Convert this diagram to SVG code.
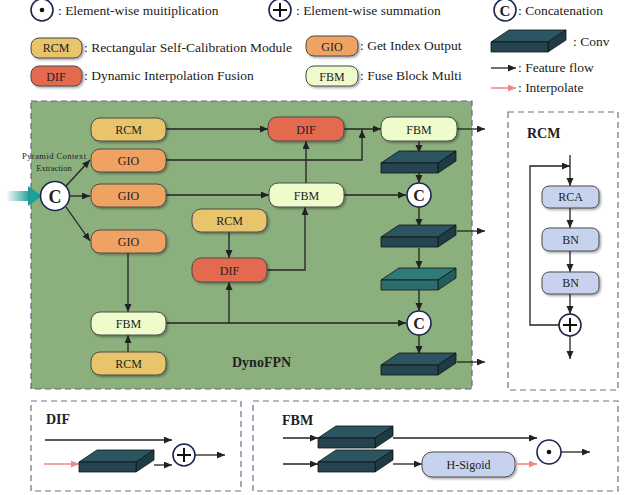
<svg xmlns="http://www.w3.org/2000/svg" xmlns:xlink="http://www.w3.org/1999/xlink" width="629" height="495" viewBox="0 0 629 495">
<style>
text{font-family:"Liberation Serif","Times New Roman",serif;fill:#222}
.lg{font-size:13.5px}
.nt{font-size:12px;text-anchor:middle}
.bt{font-size:14px;font-weight:bold}
.box{stroke:#4a4a4a;stroke-width:1;filter:url(#sh)}
.rcm{fill:#e8c46a}.gio{fill:#f0a262}.dif{fill:#e46b50}.fbm{fill:#eefccc}.blu{fill:#c7d3ee}
.ln{fill:none;stroke:#222;stroke-width:1.3}
.ar{marker-end:url(#ah)}
.pk{fill:none;stroke:#ee8a86;stroke-width:1.6;marker-end:url(#ahp)}
.cir{fill:#fff;stroke:#1c2550;stroke-width:1.6}
.dash{fill:none;stroke:#6c7088;stroke-width:1.2;stroke-dasharray:6 4}
</style>
<defs>
<filter id="sh" x="-10%" y="-20%" width="130%" height="160%"><feDropShadow dx="1.5" dy="1.5" stdDeviation="0.8" flood-color="#000" flood-opacity="0.35"/></filter>
<marker id="ah" markerUnits="userSpaceOnUse" markerWidth="9" markerHeight="8" refX="8" refY="3.5" orient="auto"><path d="M0,0 L8,3.5 L0,7 z" fill="#222"/></marker>
<marker id="ahp" markerUnits="userSpaceOnUse" markerWidth="9" markerHeight="8" refX="8" refY="3.5" orient="auto"><path d="M0,0 L8,3.5 L0,7 z" fill="#ee8a86"/></marker>
<linearGradient id="tg" x1="0" y1="0" x2="1" y2="0"><stop offset="0" stop-color="#1d9e96" stop-opacity="0"/><stop offset="1" stop-color="#1d9e96"/></linearGradient>
<g id="conv" stroke="#111" stroke-width="0.8" stroke-linejoin="round">
<polygon points="0,0 18,-12 75,-12 57,0" fill="#2b5560"/>
<polygon points="57,0 75,-12 75,-2 57,10" fill="#1d3c45"/>
<rect x="0" y="0" width="57" height="10" fill="#24444f"/>
</g>
<g id="convt" stroke="#111" stroke-width="0.8" stroke-linejoin="round">
<polygon points="0,0 18,-12 75,-12 57,0" fill="#2f7b78"/>
<polygon points="57,0 75,-12 75,-2 57,10" fill="#225e5c"/>
<rect x="0" y="0" width="57" height="10" fill="#286f6d"/>
</g>
</defs>
<rect width="629" height="495" fill="#fff"/>

<!-- Legend -->
<g id="legend">
<circle class="cir" cx="42" cy="10" r="11"/><circle cx="42" cy="10" r="2.3" fill="#111"/>
<text class="lg" x="58" y="15">: Element-wise muitiplication</text>
<circle class="cir" cx="280" cy="10" r="11"/><path d="M273,10 H287 M280,3 V17" stroke="#111" stroke-width="2"/>
<text class="lg" x="296" y="15">: Element-wise summation</text>
<circle class="cir" cx="505" cy="10" r="11"/><text x="505" y="15.5" font-size="15" font-weight="bold" text-anchor="middle">C</text>
<text class="lg" x="518" y="15">: Concatenation</text>
<rect class="box rcm" x="31" y="38" width="51" height="20" rx="8"/><text class="nt" x="56" y="52">RCM</text>
<text class="lg" x="84" y="52">: Rectangular Self-Calibration Module</text>
<rect class="box dif" x="31" y="66" width="51" height="20" rx="8"/><text class="nt" x="56" y="80.5">DIF</text>
<text class="lg" x="84" y="80">: Dynamic Interpolation Fusion</text>
<rect class="box gio" x="306" y="36" width="52" height="20" rx="8"/><text class="nt" x="332" y="50.5">GIO</text>
<text class="lg" x="360" y="50">: Get Index Output</text>
<rect class="box fbm" x="306" y="66" width="52" height="20" rx="8"/><text class="nt" x="332" y="80.5">FBM</text>
<text class="lg" x="360" y="80">: Fuse Block Multi</text>
<use href="#conv" x="491" y="42"/>
<text class="lg" x="573" y="46">: Conv</text>
<line class="ln ar" x1="491" y1="68" x2="516" y2="68"/>
<text class="lg" x="518" y="72">: Feature flow</text>
<line class="pk" x1="491" y1="88" x2="516" y2="88"/>
<text class="lg" x="518" y="92">: Interpolate</text>
</g>

<!-- Main panel -->
<rect x="31" y="101" width="441" height="288" fill="#8cb07d" stroke="#5f6680" stroke-width="1.2" stroke-dasharray="6 4"/>
<text x="54" y="159" font-size="8.5" text-anchor="middle" textLength="64">Pyramid Context</text>
<text x="54" y="171" font-size="8.5" text-anchor="middle">Extraction</text>
<text class="bt" x="232" y="367">DynoFPN</text>

<!-- Input teal arrow -->
<g id="input">
<rect x="6" y="191" width="24" height="10" fill="url(#tg)"/>
<polygon points="28,186 42,196 28,206" fill="#1d9e96"/>
</g>

<g id="connectors">
<line class="ln ar" x1="66" y1="186" x2="90" y2="160"/>
<line class="ln ar" x1="70" y1="196" x2="90" y2="196"/>
<line class="ln ar" x1="66" y1="207" x2="90" y2="241"/>
<line class="ln ar" x1="166" y1="129" x2="268" y2="129"/>
<line class="ln ar" x1="344" y1="129" x2="381" y2="129"/>
<polyline class="ln ar" points="166,160 362,160 362,130"/>
<line class="ln ar" x1="166" y1="195" x2="269" y2="195"/>
<line class="ln ar" x1="306" y1="183" x2="306" y2="141"/>
<line class="ln ar" x1="344" y1="195" x2="406" y2="195"/>
<line class="ln ar" x1="457" y1="129" x2="485" y2="129"/>
<line class="ln ar" x1="419" y1="141" x2="419" y2="153"/>
<line class="ln ar" x1="419" y1="173" x2="419" y2="183"/>
<line class="ln ar" x1="419" y1="207" x2="419" y2="227"/>
<line class="ln ar" x1="457" y1="231" x2="485" y2="231"/>
<line class="ln ar" x1="419" y1="248" x2="419" y2="269"/>
<line class="ln ar" x1="419" y1="290" x2="419" y2="311"/>
<line class="ln ar" x1="419" y1="335" x2="419" y2="354"/>
<line class="ln ar" x1="457" y1="362" x2="485" y2="362"/>
<line class="ln ar" x1="128" y1="253" x2="128" y2="312"/>
<line class="ln ar" x1="128" y1="352" x2="128" y2="335"/>
<line class="ln ar" x1="166" y1="323" x2="406" y2="323"/>
<line class="ln ar" x1="229" y1="323" x2="229" y2="282"/>
<line class="ln ar" x1="229" y1="232" x2="229" y2="258"/>
<polyline class="ln ar" points="267,270 305,270 305,207"/>
</g>

<g id="cat1"><circle class="cir" cx="55" cy="196" r="14.5"/><text x="55" y="202.5" font-size="18" font-weight="bold" text-anchor="middle">C</text></g>
<g id="rcm1"><rect class="box rcm" x="91" y="118" width="75" height="23" rx="9"/><text class="nt" x="128.5" y="134">RCM</text></g>
<g id="gio1"><rect class="box gio" x="91" y="149" width="75" height="23" rx="9"/><text class="nt" x="128.5" y="165">GIO</text></g>
<g id="gio2"><rect class="box gio" x="91" y="184" width="75" height="23" rx="9"/><text class="nt" x="128.5" y="200">GIO</text></g>
<g id="gio3"><rect class="box gio" x="91" y="230" width="75" height="23" rx="9"/><text class="nt" x="128.5" y="246">GIO</text></g>
<g id="rcm2"><rect class="box rcm" x="192" y="209" width="75" height="23" rx="9"/><text class="nt" x="229.5" y="225">RCM</text></g>
<g id="dif2"><rect class="box dif" x="192" y="258" width="75" height="24" rx="9"/><text class="nt" x="229.5" y="274.5">DIF</text></g>
<g id="dif1"><rect class="box dif" x="268" y="117" width="76" height="24" rx="9"/><text class="nt" x="306" y="133.5">DIF</text></g>
<g id="fbm1"><rect class="box fbm" x="381" y="117" width="76" height="24" rx="9"/><text class="nt" x="419" y="133.5">FBM</text></g>
<g id="fbm2"><rect class="box fbm" x="269" y="183" width="75" height="24" rx="9"/><text class="nt" x="306.5" y="199.5">FBM</text></g>
<g id="fbm3"><rect class="box fbm" x="91" y="312" width="75" height="23" rx="9"/><text class="nt" x="128.5" y="328">FBM</text></g>
<g id="rcm3"><rect class="box rcm" x="91" y="352" width="75" height="23" rx="9"/><text class="nt" x="128.5" y="368">RCM</text></g>
<g id="conv1"><use href="#conv" x="381" y="163"/></g>
<g id="cat2"><circle class="cir" cx="419" cy="195" r="12"/><text x="419" y="200.5" font-size="16" font-weight="bold" text-anchor="middle">C</text></g>
<g id="conv2"><use href="#conv" x="381" y="237"/></g>
<g id="conv3"><use href="#convt" x="381" y="280"/></g>
<g id="cat3"><circle class="cir" cx="419" cy="323" r="12"/><text x="419" y="328.5" font-size="16" font-weight="bold" text-anchor="middle">C</text></g>
<g id="conv4"><use href="#conv" x="381" y="365"/></g>

<!-- RCM panel -->
<g id="rcm-panel">
<rect class="dash" x="508" y="112" width="110" height="278"/>
<text class="bt" x="527" y="138">RCM</text>
<line class="ln ar" x1="570" y1="155" x2="570" y2="186"/>
<polyline class="ln ar" points="559,325 530,325 530,166 570,166"/>
<rect class="box blu" x="542" y="186" width="57" height="22" rx="7"/><text class="nt" x="570.5" y="201">RCA</text>
<line class="ln ar" x1="570" y1="208" x2="570" y2="228"/>
<rect class="box blu" x="542" y="228" width="57" height="23" rx="7"/><text class="nt" x="570.5" y="243.5">BN</text>
<line class="ln ar" x1="570" y1="251" x2="570" y2="272"/>
<rect class="box blu" x="542" y="272" width="57" height="22" rx="7"/><text class="nt" x="570.5" y="287">BN</text>
<line class="ln ar" x1="570" y1="294" x2="570" y2="314"/>
<circle class="cir" cx="570" cy="325" r="11"/><path d="M563,325 H577 M570,318 V332" stroke="#111" stroke-width="2"/>
<line class="ln ar" x1="570" y1="336" x2="570" y2="359"/>
</g>

<!-- DIF panel -->
<g id="dif-panel">
<rect class="dash" x="31" y="401" width="210" height="90"/>
<text class="bt" x="46" y="424">DIF</text>
<line class="ln ar" x1="45" y1="440" x2="172" y2="440"/>
<line class="pk" x1="44" y1="464" x2="79" y2="464"/>
<use href="#conv" x="79" y="462"/>
<line class="ln ar" x1="154" y1="465" x2="172" y2="465"/>
<circle class="cir" cx="184" cy="455" r="11"/><path d="M177,455 H191 M184,448 V462" stroke="#111" stroke-width="2"/>
<line class="ln ar" x1="195" y1="455" x2="225" y2="455"/>
</g>

<!-- FBM panel -->
<g id="fbm-panel">
<rect class="dash" x="253" y="401" width="365" height="90"/>
<text class="bt" x="282" y="425">FBM</text>
<line class="ln ar" x1="283" y1="438" x2="318" y2="438"/>
<line class="ln ar" x1="283" y1="464" x2="318" y2="464"/>
<use href="#conv" x="318" y="438"/>
<use href="#conv" x="318" y="462"/>
<line class="ln ar" x1="393" y1="438" x2="537" y2="438"/>
<line class="ln ar" x1="393" y1="464" x2="422" y2="464"/>
<rect class="box blu" x="422" y="452" width="93" height="25" rx="10"/><text class="nt" x="468.5" y="468.5">H-Sigoid</text>
<line class="pk" x1="515" y1="464" x2="537" y2="464"/>
<circle class="cir" cx="549" cy="452" r="12"/><circle cx="549" cy="452" r="2.3" fill="#111"/>
<line class="ln ar" x1="561" y1="452" x2="590" y2="452"/>
</g>
</svg>
